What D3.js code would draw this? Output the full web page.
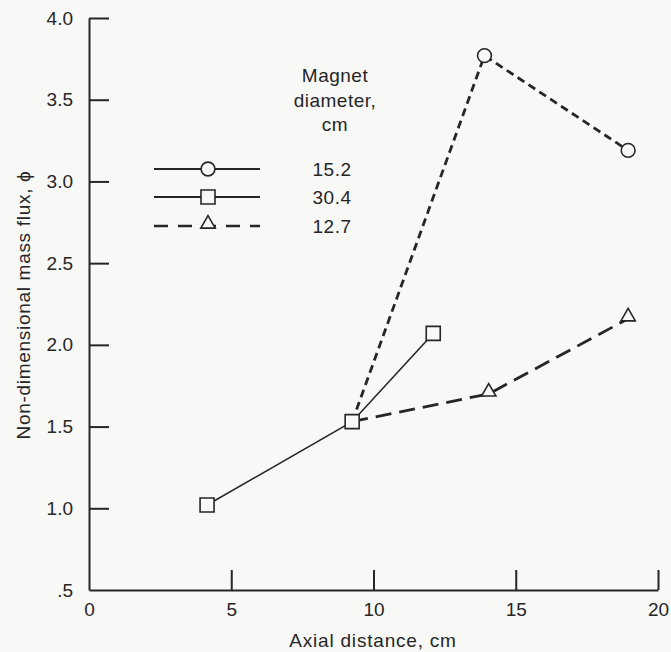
<!DOCTYPE html>
<html>
<head>
<meta charset="utf-8">
<script src="https://cdn.jsdelivr.net/npm/d3@7"></script>
<style>
  body { margin: 0; background: #f8f8f7; }
  svg { display: block; font-family: "Liberation Sans", Arial, sans-serif; }
</style>
</head>
<body>
<svg width="671" height="652"></svg>
<script>
var xTicks = [0, 5, 10, 15, 20];
var yTicks = [0.5, 1.0, 1.5, 2.0, 2.5, 3.0, 3.5, 4.0];
var legendTitle = ["Magnet", "diameter,", "cm"];

// 15.2 cm magnet (circles, short dashes)
var circX = [9.25, 13.9, 18.95];
var circY = [1.53, 3.77, 3.19];
// 30.4 cm magnet (squares, solid)
var sqX = [4.15, 9.25, 12.1];
var sqY = [1.02, 1.53, 2.07];
// 12.7 cm magnet (triangles, long dashes)
var triX = [9.25, 14.05, 18.95];
var triY = [1.53, 1.70, 2.16];

var ink = "#262626";
var svg = d3.select("svg");

var x = d3.scaleLinear().domain([0, 20]).range([89, 658]);
var y = d3.scaleLinear().domain([0.5, 4.0]).range([590, 18]);

var xAxis = svg.append("g")
    .attr("transform", "translate(0,590)")
    .call(d3.axisBottom(x).tickValues(xTicks).tickSizeInner(-20).tickSizeOuter(0).tickPadding(13).tickFormat(d3.format("d")));
var yAxis = svg.append("g")
    .attr("transform", "translate(89,0)")
    .call(d3.axisLeft(y).tickValues(yTicks).tickSizeInner(-20).tickSizeOuter(0).tickPadding(16)
      .tickFormat(function(d) { return d === 0.5 ? ".5" : d.toFixed(1); }));

[xAxis, yAxis].forEach(function(a) {
  a.selectAll("path, line").attr("stroke", ink).attr("stroke-width", 2);
  a.selectAll("text").attr("fill", ink).style("font-size", "19px");
});
xAxis.selectAll(".tick").filter(function(d) { return d === 0; }).select("line").remove();
yAxis.selectAll(".tick").filter(function(d) { return d === 0.5; }).select("line").remove();

svg.append("text")
    .attr("x", 373).attr("y", 647)
    .attr("text-anchor", "middle")
    .attr("fill", ink)
    .style("font-size", "19px")
    .style("letter-spacing", "0.8px")
    .text("Axial distance, cm");
svg.append("text")
    .attr("transform", "translate(30,305) rotate(-90)")
    .attr("text-anchor", "middle")
    .attr("fill", ink)
    .style("font-size", "19px")
    .style("letter-spacing", "0.7px")
    .text("Non-dimensional mass flux, \u03d5");

function pts(xs, ys) { return xs.map(function(v, i) { return [v, ys[i]]; }); }
var line = d3.line().x(function(d) { return x(d[0]); }).y(function(d) { return y(d[1]); });

svg.append("path").datum(pts(sqX, sqY))
    .attr("d", line).attr("fill", "none").attr("stroke", ink).attr("stroke-width", 1.6);
svg.append("path").datum(pts(circX, circY))
    .attr("d", line).attr("fill", "none").attr("stroke", ink).attr("stroke-width", 2.8)
    .attr("stroke-dasharray", "8,5");
svg.append("path").datum(pts(triX, triY))
    .attr("d", line).attr("fill", "none").attr("stroke", ink).attr("stroke-width", 2.8)
    .attr("stroke-dasharray", "16,8");

var circleSym = d3.symbol().type(d3.symbolCircle).size(150);
var squareSym = d3.symbol().type(d3.symbolSquare).size(196);
var triSym = d3.symbol().type(d3.symbolTriangle).size(90);

function marks(data, sym, dy) {
  svg.append("g").selectAll("path")
    .data(data).enter()
    .append("path")
      .attr("d", sym)
      .attr("transform", function(d) { return "translate(" + x(d[0]) + "," + (y(d[1]) + (dy || 0)) + ")"; })
      .attr("fill", "#f8f8f7")
      .attr("stroke", ink)
      .attr("stroke-width", 1.6);
}
marks(pts(circX, circY).slice(1), circleSym);
marks(pts(triX, triY).slice(1), triSym, -2);
marks(pts(sqX, sqY), squareSym);

// legend
var legend = svg.append("g");
legend.selectAll("text.title")
    .data(legendTitle).enter()
  .append("text")
    .attr("class", "title")
    .attr("x", 335)
    .attr("y", function(d, i) { return 82 + i * 24.5; })
    .attr("text-anchor", "middle")
    .attr("fill", ink)
    .style("font-size", "19px")
    .style("letter-spacing", "0.5px")
    .text(function(d) { return d; });

var legendItems = [
  { label: "15.2", sym: circleSym, dash: null, w: 2 },
  { label: "30.4", sym: squareSym, dash: null, w: 2 },
  { label: "12.7", sym: triSym, dash: "14,10", w: 2.5 }
];
var rowY = [169, 197, 226];
legendItems.forEach(function(it, i) {
  legend.append("line")
      .attr("x1", 154).attr("x2", 260)
      .attr("y1", rowY[i]).attr("y2", rowY[i])
      .attr("stroke", ink).attr("stroke-width", it.w)
      .attr("stroke-dasharray", it.dash);
  legend.append("path")
      .attr("d", it.sym)
      .attr("transform", "translate(208," + (rowY[i] + (i === 2 ? -2 : 0)) + ")")
      .attr("fill", "#f8f8f7").attr("stroke", ink).attr("stroke-width", 1.6);
  legend.append("text")
      .attr("x", 332).attr("y", rowY[i] + 7)
      .attr("text-anchor", "middle")
      .attr("fill", ink)
      .style("font-size", "19px")
      .style("letter-spacing", "0.5px")
      .text(it.label);
});
</script>
</body>
</html>
